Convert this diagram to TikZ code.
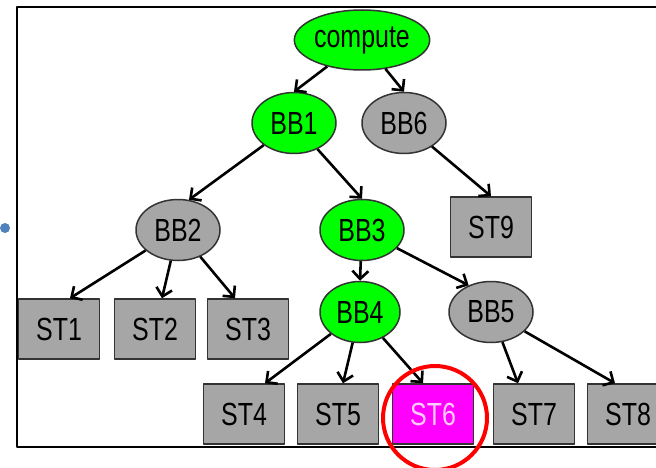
\documentclass[tikz,border=0pt]{standalone}
\usepackage{fontspec}
\setmainfont{Liberation Sans}[FakeStretch=0.78]
\usetikzlibrary{arrows.meta,shapes.geometric}

\definecolor{bbgreen}{RGB}{0,255,0}
\definecolor{bbgray}{RGB}{166,166,166}
\definecolor{hitpink}{RGB}{255,0,255}
\definecolor{bulletblue}{RGB}{79,129,189}

\begin{document}
\begin{tikzpicture}[x=1pt, y=-1pt, >={Straight Barb[length=8pt,width=16pt]},
    line join=round,
    every node/.style={font=\fontsize{32}{36}\selectfont, draw=black!80, line width=1.5pt, inner sep=0pt},
    bb/.style={ellipse, minimum width=84pt, minimum height=61pt},
    st/.style={rectangle, minimum width=81pt, minimum height=60pt, fill=bbgray},
    edge/.style={->, line width=2.6pt}]
  \useasboundingbox (0,0) rectangle (656,468);
  % frame and bullet
  \draw[line width=2.4pt] (656,7) -- (17,7) -- (17,447) -- (656,447);
  \fill[bulletblue] (5,228) circle (5pt);

  % blocks
  \node[bb, fill=bbgreen, minimum width=128pt, minimum height=60pt] (compute) at (362,40) {compute};
  \node[bb, fill=bbgreen] (bb1) at (294,123) {BB1};
  \node[bb, fill=bbgray] (bb6) at (404,123) {BB6};
  \node[bb, fill=bbgray] (bb2) at (178,230) {BB2};
  \node[bb, fill=bbgreen] (bb3) at (362,230) {BB3};
  \node[bb, fill=bbgreen, minimum width=80pt] (bb4) at (360,312) {BB4};
  \node[bb, fill=bbgray] (bb5) at (491,312) {BB5};

  % statements
  \node[st] (st9) at (491,227) {ST9};
  \node[st] (st1) at (59,329) {ST1};
  \node[st] (st2) at (155,329) {ST2};
  \node[st] (st3) at (248,329) {ST3};
  \node[st] (st4) at (244,414) {ST4};
  \node[st] (st5) at (338,414) {ST5};
  \node[st, fill=hitpink, text=white!80!hitpink] (st6) at (433,414) {ST6};
  \node[st] (st7) at (534,414) {ST7};
  \node[st] (st8) at (628,414) {ST8};

  % control flow
  \draw[edge] (compute) -- (bb1.north);
  \draw[edge] (compute) -- (bb6.north);
  \draw[edge] (bb1) -- (bb2.70);
  \draw[edge] (bb1) -- (bb3.north);
  \draw[edge] (bb6) -- (st9.north);
  \draw[edge] (bb2) -- ([xshift=11pt]st1.north);
  \draw[edge] (bb2) -- ([xshift=7pt]st2.north);
  \draw[edge] (bb2) -- ([xshift=-13pt]st3.north);
  \draw[edge] (bb3) -- (bb4.north);
  \draw[edge] (bb3) -- (bb5.130);
  \draw[edge] (bb4) -- ([xshift=21pt]st4.north);
  \draw[edge] (bb4) -- ([xshift=5pt]st5.north);
  \draw[edge] (bb4) -- ([xshift=-10pt]st6.north);
  \draw[edge] (bb5) -- ([xshift=-16pt]st7.north);
  \draw[edge] (bb5) -- ([xshift=-13pt]st8.north);

  % highlight
  \draw[red, line width=4pt] (435,418) circle (52pt);
\end{tikzpicture}
\end{document}
